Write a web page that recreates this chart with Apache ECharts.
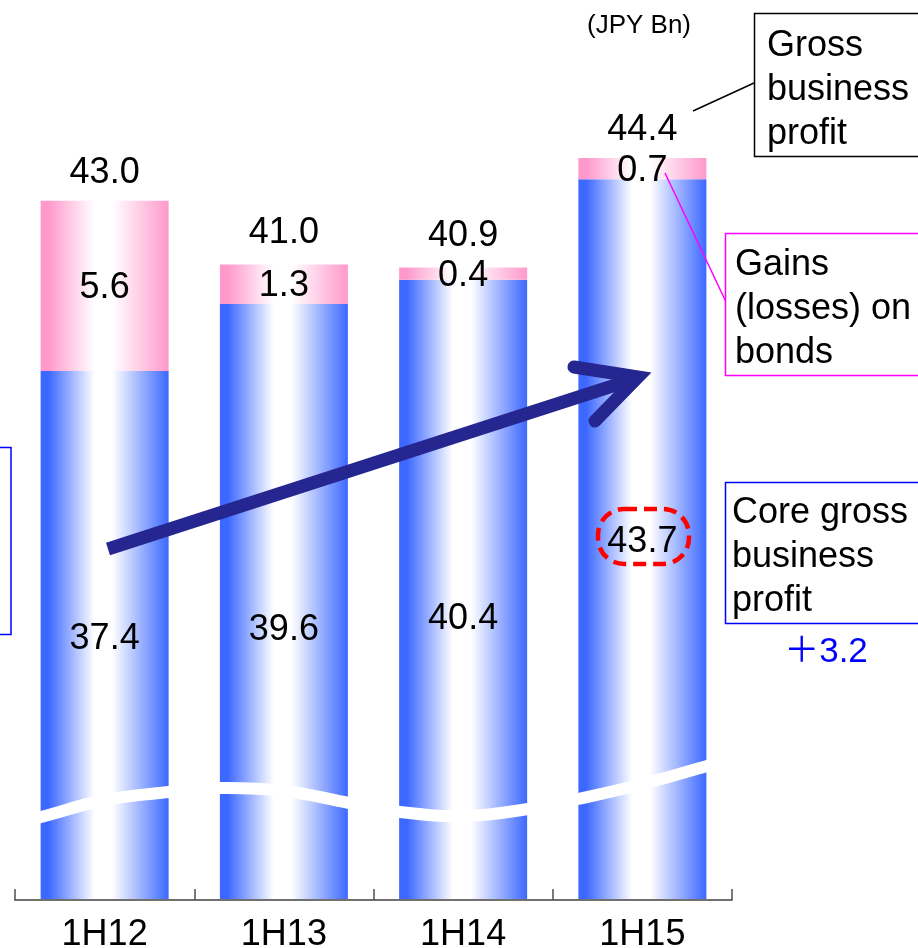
<!DOCTYPE html>
<html>
<head>
<meta charset="utf-8">
<script src="https://cdn.jsdelivr.net/npm/echarts@6/dist/echarts.min.js"></script>
<style>
  html, body { margin: 0; padding: 0; background: #fff; }
  #chart { width: 918px; height: 948px; }
</style>
</head>
<body>
<div id="chart"></div>
<script>
// Half-year gross business profit breakdown (JPY Bn)
const categories = ['1H12', '1H13', '1H14', '1H15'];
const coreProfit = [37.4, 39.6, 40.4, 43.7];
const bondGains = [5.6, 1.3, 0.4, 0.7];
const grossProfit = [43.0, 41.0, 40.9, 44.4];

const FONT = "'Liberation Sans', Arial, 'Noto Sans CJK JP', sans-serif";

function hGradient(edge) {
  return new echarts.graphic.LinearGradient(0, 0, 1, 0, [
    { offset: 0, color: edge },
    { offset: 0.06, color: edge },
    { offset: 0.42, color: '#ffffff' },
    { offset: 0.56, color: '#ffffff' },
    { offset: 1, color: edge }
  ]);
}
const blueFill = hGradient('#3c68ff');
const pinkFill = hGradient('#ff99cc');

const fmt = p => Number(p.value).toFixed(1);

// vertical nudges for the core labels inside the tall bars
const coreNudge = [4, 28, 29, 2];

const option = {
  animation: false,
  backgroundColor: '#ffffff',
  grid: { left: 15, right: 186, top: 3, bottom: 48, outerBoundsMode: 'none', containLabel: false },
  xAxis: {
    type: 'category',
    data: categories,
    z: 10,
    axisLine: { show: true, lineStyle: { color: '#707070', width: 2 } },
    axisTick: { show: true, inside: true, length: 11, alignWithLabel: false, lineStyle: { color: '#505050', width: 1.5 } },
    axisLabel: { color: '#000', fontSize: 36, fontFamily: FONT, margin: 17 }
  },
  yAxis: {
    type: 'value',
    min: 20,
    max: 49.5,
    show: false,
    splitLine: { show: false }
  },
  series: [
    {
      name: 'Core gross business profit',
      type: 'bar',
      stack: 'gross',
      barWidth: 128,
      data: coreProfit.map((v, i) => ({
        value: v,
        label: { offset: [0, coreNudge[i]] }
      })),
      itemStyle: { color: blueFill },
      label: {
        show: true, position: 'inside', color: '#000',
        fontSize: 36, fontFamily: FONT, formatter: fmt
      }
    },
    {
      name: 'Gains (losses) on bonds',
      type: 'bar',
      stack: 'gross',
      barWidth: 128,
      data: bondGains,
      itemStyle: { color: pinkFill },
      label: {
        show: true, position: 'inside', offset: [0, 2], color: '#000',
        fontSize: 36, fontFamily: FONT, formatter: fmt
      }
    },
    {
      name: 'Gross business profit',
      type: 'bar',
      barWidth: 128,
      barGap: '-100%',
      silent: true,
      data: grossProfit,
      itemStyle: { color: 'rgba(0,0,0,0)' },
      label: {
        show: true, position: 'top', distance: 10, color: '#000',
        fontSize: 36, fontFamily: FONT, formatter: fmt
      }
    }
  ],
  graphic: [
    // white wavy axis-break line across the bars
    {
      type: 'polyline', z: 50, silent: true,
      shape: {
        smooth: 0.4,
        points: [[30, 820], [41, 817], [105, 800], [169, 792], [220, 788], [285, 791], [349, 803],
                 [400, 812], [464, 816], [528, 809], [578, 799], [643, 784], [707, 766], [720, 762]]
      },
      style: { stroke: '#ffffff', lineWidth: 12, fill: null }
    },
    // unit note
    {
      type: 'text', z: 60, x: 639, y: 26,
      style: { text: '(JPY Bn)', fill: '#000', font: '26px ' + FONT, align: 'center', verticalAlign: 'middle' }
    },
    // growth arrow
    {
      type: 'line', z: 60, silent: true,
      shape: { x1: 108, y1: 549, x2: 628, y2: 381 },
      style: { stroke: '#262690', lineWidth: 13, lineCap: 'butt' }
    },
    {
      type: 'polyline', z: 60, silent: true,
      shape: { points: [[574, 367], [638, 377], [595, 421]] },
      style: { stroke: '#262690', lineWidth: 13, lineCap: 'round', lineJoin: 'miter', fill: null }
    },
    // dashed highlight around the latest core figure
    {
      type: 'rect', z: 60, silent: true,
      shape: { x: 598, y: 509, width: 91, height: 55, r: 26 },
      style: { stroke: '#ff0000', lineWidth: 4.5, lineDash: [13, 7], fill: null }
    },
    // callout: gross business profit
    {
      type: 'line', z: 60,
      shape: { x1: 693, y1: 111, x2: 754, y2: 83 },
      style: { stroke: '#000', lineWidth: 1.5 }
    },
    {
      type: 'rect', z: 60,
      shape: { x: 754.5, y: 13.5, width: 200, height: 143 },
      style: { stroke: '#000', lineWidth: 1.5, fill: '#fff' }
    },
    {
      type: 'text', z: 61, x: 767, y: 24,
      style: { text: 'Gross\nbusiness\nprofit', fill: '#000', font: '36px ' + FONT, lineHeight: 44, verticalAlign: 'top' }
    },
    // callout: gains (losses) on bonds
    {
      type: 'line', z: 60,
      shape: { x1: 665, y1: 173, x2: 726, y2: 302 },
      style: { stroke: '#ff00ff', lineWidth: 1.5 }
    },
    {
      type: 'rect', z: 60,
      shape: { x: 725.5, y: 233.5, width: 230, height: 142 },
      style: { stroke: '#ff00ff', lineWidth: 1.5, fill: '#fff' }
    },
    {
      type: 'text', z: 61, x: 735, y: 243,
      style: { text: 'Gains\n(losses) on\nbonds', fill: '#000', font: '36px ' + FONT, lineHeight: 44, verticalAlign: 'top' }
    },
    // callout: core gross business profit
    {
      type: 'rect', z: 60,
      shape: { x: 725.5, y: 482.5, width: 230, height: 141 },
      style: { stroke: '#0000ff', lineWidth: 1.5, fill: '#fff' }
    },
    {
      type: 'text', z: 61, x: 732, y: 491,
      style: { text: 'Core gross\nbusiness\nprofit', fill: '#000', font: '36px ' + FONT, lineHeight: 44, verticalAlign: 'top' }
    },
    {
      type: 'text', z: 61, x: 826, y: 652,
      style: { text: '＋3.2', fill: '#0000ff', font: '35px ' + FONT, align: 'center', verticalAlign: 'middle' }
    },
    // left-hand box, mostly off the page
    {
      type: 'rect', z: 60,
      shape: { x: -200, y: 447.5, width: 211, height: 187 },
      style: { stroke: '#0000ff', lineWidth: 1.5, fill: null }
    }
  ]
};

const chart = echarts.init(document.getElementById('chart'), null, { renderer: 'canvas' });
chart.setOption(option);
</script>
</body>
</html>
